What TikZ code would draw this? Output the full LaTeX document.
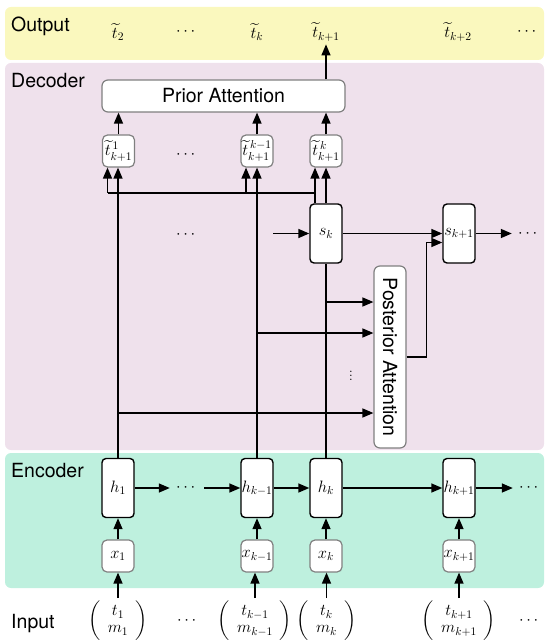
\RequirePackage{fix-cm}
\documentclass[tikz,border=0pt]{standalone}
\usepackage{amsmath,amssymb}
\usepackage{graphicx}
\usepackage{fontspec}
\setsansfont{TeX Gyre Heros}
\usepackage{tikz}
\usetikzlibrary{arrows.meta, positioning, calc}
\usepackage{xcolor}

\definecolor{outyellow}{RGB}{250,248,190}
\definecolor{decpink}{RGB}{239,225,236}
\definecolor{encmint}{RGB}{190,240,222}
\definecolor{edgegray}{RGB}{128,128,128}

\newcommand{\mathsz}{\fontsize{16.5}{17}\selectfont}
\newcommand{\labsz}{\sffamily\fontsize{19.5}{23}\selectfont}
\newcommand{\pair}[2]{$\left(\hspace{7pt}\begin{matrix}#1\\#2\end{matrix}\hspace{7pt}\right)$}

\begin{document}
\begin{tikzpicture}[
    x=1pt, y=-1pt,
    >={Triangle[length=11pt,width=9pt]},
    panel/.style={rounded corners=6pt},
    region/.style={font=\labsz, anchor=base west, inner sep=0pt},
    rnn/.style={draw=black, line width=1.4pt, rounded corners=4pt, fill=white, minimum width=32pt, minimum height=59pt, inner sep=0pt, font=\mathsz},
    tbox/.style={draw=edgegray, line width=1.2pt, rounded corners=5pt, fill=white, minimum size=32pt, inner sep=0pt, font=\mathsz},
    attn/.style={draw=edgegray, line width=1.2pt, rounded corners=6pt, fill=white, inner sep=0pt, font=\labsz},
    term/.style={font=\mathsz, inner sep=3pt},
    gap/.style={font=\mathsz, inner sep=6pt},
    link/.style={line width=1.4pt, ->},
    wire/.style={line width=1.4pt}
]
    \useasboundingbox (0,0) rectangle (550,644);

    % Background bands
    \fill[panel, outyellow] (5,7) rectangle (544,60);
    \fill[panel, decpink] (5,63) rectangle (544,450);
    \fill[panel, encmint] (5,453) rectangle (544,588);

    % Band titles
    \node[region] (outtitle) at (11,32) {Output};
    \node[region] (dectitle) at (11,88) {Decoder};
    \node[region] (enctitle) at (11,477) {Encoder};
    \node[region] (intitle) at (11,628) {Input};

    % Output sequence
    \node[term] (o2) at (118,32) {$\widetilde{t}_2$};
    \node[gap] (odots) at (187,32) {$\cdots$};
    \node[term] (ok) at (257,32) {$\widetilde{t}_k$};
    \node[term] (ok1) at (326,32) {$\widetilde{t}_{k+1}$};
    \node[term] (ok2) at (458,32) {$\widetilde{t}_{k+2}$};
    \node[gap] (odots2) at (528,32) {$\cdots$};

    % Decoder nodes
    \node[attn, minimum width=243pt, minimum height=32pt] (prior) at (223.5,96) {Prior Attention};
    \node[tbox] (ta) at (118.5,151) {$\widetilde{t}^{\,1}_{k+1}$};
    \node[tbox] (tb) at (257,151) {$\widetilde{t}^{\,k-1}_{k+1}$};
    \node[tbox] (tc) at (326,151) {$\widetilde{t}^{\,k}_{k+1}$};
    \node[gap] (tdots) at (187,155) {$\cdots$};
    \node[rnn] (sk) at (326,233.5) {$s_k$};
    \node[rnn] (sk1) at (459,233.5) {$s_{k+1}$};
    \node[gap] (mdots) at (187,235) {$\cdots$};
    \node[gap] (sdots) at (529,233.5) {$\cdots$};
    \coordinate (skin) at (273,233.5);
    \node[attn, minimum width=32pt, minimum height=182pt] (post) at (390,357) {\rotatebox{-90}{Posterior Attention}};
    \node[term, inner sep=0pt] (pdots) at (351,373) {$\vdots$};

    % Encoder nodes
    \node[rnn] (h1) at (118,488) {$h_1$};
    \node[rnn] (hkm) at (257,488) {$h_{k-1}$};
    \node[rnn] (hk) at (326,488) {$h_k$};
    \node[rnn] (hk1) at (459,488) {$h_{k+1}$};
    \node[gap] (edots) at (187,488) {$\cdots$};
    \node[gap] (edots2) at (530,488) {$\cdots$};
    \node[tbox] (x1) at (118,556) {$x_1$};
    \node[tbox] (xkm) at (257,556) {$x_{k-1}$};
    \node[tbox] (xk) at (326,556) {$x_k$};
    \node[tbox] (xk1) at (459,556) {$x_{k+1}$};

    % Input pairs
    \node[term, inner sep=3pt] (v1) at (118,621) {\pair{t_1}{m_1}};
    \node[gap] (idots) at (188,621) {$\cdots$};
    \node[term, inner sep=3pt] (vkm) at (255,621) {\pair{t_{k-1}}{m_{k-1}}};
    \node[term, inner sep=3pt] (vk) at (326.5,621) {\pair{t_k}{m_k}};
    \node[term, inner sep=3pt] (vk1) at (459,621) {\pair{t_{k+1}}{m_{k+1}}};
    \node[gap] (idots2) at (530,621) {$\cdots$};

    % Encoder links
    \foreach \v/\x/\h in {v1/x1/h1, vkm/xkm/hkm, vk/xk/hk, vk1/xk1/hk1} {
        \draw[link] (\v.north) -- (\v.north |- \x.south);
        \draw[link] (\x.north) -- (\h.south);
    }
    \draw[link] (h1) -- (edots);
    \draw[link] (edots) -- (hkm);
    \draw[link] (hkm) -- (hk);
    \draw[link] (hk) -- (hk1);
    \draw[link] (hk1) -- (edots2);

    % Hidden states up to the decoder
    \draw[link] (h1.north) -- (h1.north |- ta.south);
    \draw[link] (hkm.north) -- (hkm.north |- tb.south);
    \draw[wire] (hk) -- (sk);
    \draw[link] (sk) -- (tc);

    % State bus to the partial outputs
    \coordinate (bus) at (107.5,193);
    \draw[wire] (bus) -| ([xshift=-11pt]sk.north);
    \draw[link] (bus) -- (bus |- ta.south);
    \draw[link] ([xshift=-11pt]tb.south |- bus) -- ([xshift=-11pt]tb.south);
    \draw[link] ([xshift=-11pt]sk.north) -- ([xshift=-11pt]tc.south);

    % Into prior attention and out
    \foreach \t in {ta, tb, tc}
        \draw[link] (\t.north) -- (\t.north |- prior.south);
    \draw[link] (prior.north -| ok1) -- (ok1);

    % Decoder state chain
    \draw[link] (skin) -- (sk);
    \draw[link] (sk) -- (sk1);
    \draw[link] (sk1) -- (sdots);
    \draw[link] (post.east) -- ++(20,0) |- ([yshift=-9pt]sk1.west);

    % Into posterior attention
    \coordinate (pk) at (326,302);
    \coordinate (pkm) at (257,333);
    \coordinate (pa) at (118,413);
    \foreach \p in {pk, pkm, pa}
        \draw[link] (\p) -- (\p -| post.west);

\end{tikzpicture}
\end{document}
